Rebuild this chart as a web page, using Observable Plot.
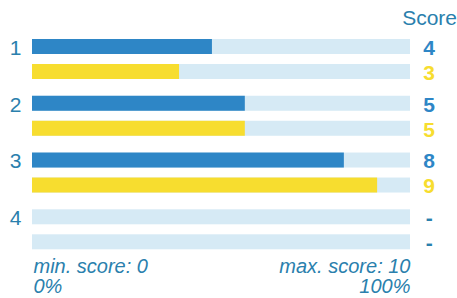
<!DOCTYPE html>
<html>
<head>
<meta charset="utf-8">
<script src="https://cdn.jsdelivr.net/npm/d3@7"></script>
<script src="https://cdn.jsdelivr.net/npm/@observablehq/plot@0.6"></script>
<style>
  html, body { margin: 0; padding: 0; background: #ffffff; }
</style>
</head>
<body>
<div id="chart"></div>
<script>
// ---- data ----
const rows = ["1", "2", "3", "4"];
const seriesKeys = ["a", "b"];
const blueScores = [4, 5, 8, null];
const yellowScores = [3, 5, 9, null];
// bar fill as % of the track
const bluePct = [47.6, 56.3, 82.5, null];
const yellowPct = [38.9, 56.3, 91.3, null];
const headerLabel = ["Score"];
const footerLeft = ["min. score: 0\n0%"];
const footerRight = ["max. score: 10\n100%"];

// ---- styles ----
const BLUE = "#2e86c6";
const YELLOW = "#f7dd2f";
const TRACK = "#d6eaf5";
const TEAL = "#2a80ad";
const FS = 21;

const data = rows.flatMap((r, i) => [
  {row: r, series: "a", pct: bluePct[i], score: blueScores[i]},
  {row: r, series: "b", pct: yellowPct[i], score: yellowScores[i]}
]);

const chart = Plot.plot({
  width: 457,
  height: 298,
  marginTop: 39,
  marginBottom: 48.7,
  marginLeft: 32,
  marginRight: 47,
  style: {fontFamily: "'Liberation Sans', Arial, sans-serif", background: "#ffffff"},
  x: {domain: [0, 100], axis: null},
  y: {domain: seriesKeys, paddingInner: 0.4, paddingOuter: 0, round: false, axis: null},
  fy: {domain: rows, paddingInner: 0.2954, paddingOuter: 0, round: false, axis: null},
  facet: {marginTop: 0, marginBottom: 0, marginLeft: 0, marginRight: 0},
  color: {domain: ["a", "b", "dash"], range: [BLUE, YELLOW, TEAL]},
  marks: [
    Plot.barX(data, {x1: 0, x2: 100, y: "series", fy: "row", fill: TRACK}),
    Plot.barX(data.filter(d => d.pct != null), {x1: 0, x2: "pct", y: "series", fy: "row", fill: "series"}),
    Plot.text(data.filter(d => d.series === "a"), {
      x: 0, y: "series", fy: "row", text: "row", dx: -17, dy: 1.2,
      fontSize: FS, fill: TEAL, textAnchor: "middle"
    }),
    Plot.text(data, {
      x: 100, y: "series", fy: "row",
      text: d => d.score == null ? "-" : String(d.score),
      fill: d => d.score == null ? "dash" : d.series,
      dx: 18.7, dy: 1.2, fontSize: FS, fontWeight: "bold", textAnchor: "middle"
    }),
    Plot.text(headerLabel, {
      x: 100, y: () => "a", fy: () => rows[0], text: d => d,
      dx: 46.5, dy: -28.9, fontSize: FS, fill: TEAL, textAnchor: "end"
    }),
    Plot.text(footerLeft, {
      x: 0, y: () => "b", fy: () => rows[rows.length - 1], text: d => d,
      dx: 1, dy: 16.5, lineAnchor: "top", lineHeight: 1, fontSize: 20,
      fontStyle: "italic", fill: TEAL, textAnchor: "start"
    }),
    Plot.text(footerRight, {
      x: 100, y: () => "b", fy: () => rows[rows.length - 1], text: d => d,
      dx: 0, dy: 16.5, lineAnchor: "top", lineHeight: 1, fontSize: 20,
      fontStyle: "italic", fill: TEAL, textAnchor: "end"
    })
  ]
});
document.getElementById("chart").appendChild(chart);
</script>
</body>
</html>
